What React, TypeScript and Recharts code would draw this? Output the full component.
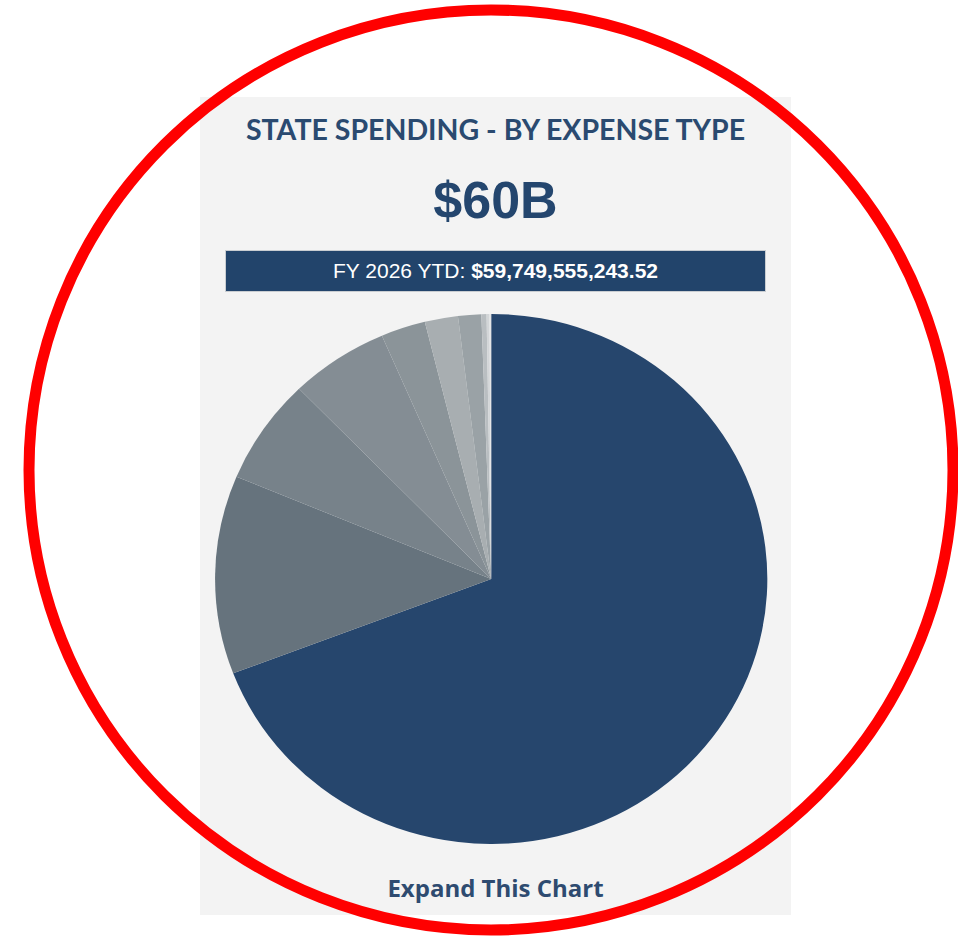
import { PieChart, Pie, Cell } from 'recharts';

// expense types, clockwise from 12 o'clock
const expenseTypes = [
  'Grants & Aid to Local Governments',
  'Salaries & Wages',
  'Employee Benefits',
  'Contractual Services',
  'Debt Service',
  'Capital Outlay',
  'Supplies & Materials',
  'Travel',
  'Utilities',
  'Other',
];

// billions of dollars, FY 2026 YTD
const expenseAmounts = [41.35, 7.23, 3.85, 3.45, 1.56, 1.16, 0.81, 0.18, 0.1, 0.06];

const sliceColors = [
  '#26466d',
  '#66737d',
  '#77828a',
  '#848d94',
  '#8b9499',
  '#a8aeb1',
  '#9aa2a6',
  '#b9bec1',
  '#d3d6d8',
  '#e4e5e6',
];

const headline = '$60B';
const ytdLabel = 'FY 2026 YTD:';
const ytdAmount = '$59,749,555,243.52';

const pieData = expenseTypes.map((name, i) => ({ name, value: expenseAmounts[i] }));

export default function App() {
  return (
    <div
      style={{
        position: 'absolute',
        left: 0,
        top: 0,
        width: 958,
        height: 937,
        overflow: 'hidden',
        background: '#ffffff',
        fontFamily: 'Lato, sans-serif',
      }}
    >
      {/* page heading, cut off at the top of the screenshot */}
      <div
        style={{
          position: 'absolute',
          left: -322,
          top: -106,
          fontSize: 72,
          fontWeight: 700,
          color: '#1f3c66',
          whiteSpace: 'nowrap',
          lineHeight: '72px',
        }}
      >
        Spending by Category
      </div>

      {/* card */}
      <div
        style={{
          position: 'absolute',
          left: 200,
          top: 97,
          width: 591,
          height: 818,
          background: '#f3f3f3',
        }}
      >
        <div
          style={{
            position: 'absolute',
            left: 0,
            top: 15,
            width: 591,
            textAlign: 'center',
            fontSize: 28.5,
            fontWeight: 700,
            color: '#2a4a70',
            whiteSpace: 'nowrap',
          }}
        >
          STATE SPENDING - BY EXPENSE TYPE
        </div>
        <div
          style={{
            position: 'absolute',
            left: 0,
            top: 73,
            width: 591,
            textAlign: 'center',
            fontFamily: '"Liberation Sans", Arial, sans-serif',
            fontSize: 52,
            fontWeight: 700,
            color: '#24466e',
          }}
        >
          {headline}
        </div>
        <div
          style={{
            position: 'absolute',
            left: 25,
            top: 153,
            width: 539,
            height: 40,
            background: '#22446b',
            border: '1px solid #c9cdd1',
            color: '#ffffff',
            fontFamily: '"Liberation Sans", Arial, sans-serif',
            fontSize: 21,
            lineHeight: '40px',
            textAlign: 'center',
            whiteSpace: 'nowrap',
          }}
        >
          {ytdLabel} <b>{ytdAmount}</b>
        </div>

        <div
          style={{
            position: 'absolute',
            left: 6,
            top: 207,
            width: 560,
            height: 540,
            transform: 'scaleX(1.042)',
            transformOrigin: '280px 270px',
          }}
        >
          <PieChart width={560} height={540}>
            <Pie
              data={pieData}
              dataKey="value"
              nameKey="name"
              cx={280}
              cy={270}
              outerRadius={265}
              startAngle={90}
              endAngle={-270}
              stroke="none"
              isAnimationActive={false}
            >
              {pieData.map((entry, index) => (
                <Cell key={`cell-${index}`} fill={sliceColors[index]} />
              ))}
            </Pie>
          </PieChart>
        </div>

        <div
          style={{
            position: 'absolute',
            left: 0,
            top: 774,
            width: 591,
            textAlign: 'center',
            fontFamily: '"Open Sans", sans-serif',
            fontSize: 24,
            fontWeight: 700,
            color: '#2e4b70',
          }}
        >
          Expand This Chart
        </div>
      </div>

      {/* red annotation ring */}
      <svg
        width={958}
        height={937}
        style={{ position: 'absolute', left: 0, top: 0, pointerEvents: 'none' }}
      >
        <ellipse cx={491} cy={470} rx={462} ry={460} fill="none" stroke="#ff0000" strokeWidth={11} />
      </svg>
    </div>
  );
}
